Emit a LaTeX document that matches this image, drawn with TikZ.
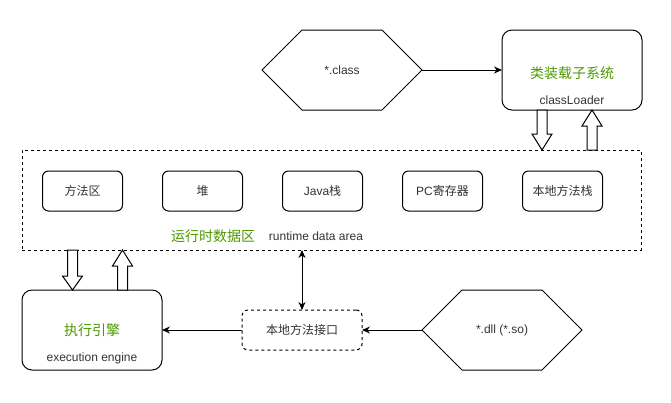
\documentclass[tikz,border=0pt]{standalone}
\usepackage{fontspec}
\setmainfont{Liberation Sans}
\newfontfamily\cjk{Noto Sans CJK SC}
\usetikzlibrary{arrows.meta,calc}
\definecolor{grn}{RGB}{77,153,0}
\definecolor{txt}{RGB}{51,51,51}
\begin{document}
\begin{tikzpicture}[x=1pt,y=-1pt,line width=1pt,
  every node/.style={outer sep=0pt,inner sep=0pt,text=txt},
  small/.style={font=\fontsize{12}{14}\selectfont},
  big/.style={font=\fontsize{14}{16}\selectfont\cjk,text=grn},
  membox/.style={draw,rounded corners=6pt,minimum width=80pt,minimum height=40pt,font=\fontsize{12}{14}\selectfont},
  bigbox/.style={draw,rounded corners=10pt,minimum width=140pt,minimum height=80pt},
  hexbox/.style={minimum width=160pt,minimum height=80pt,font=\fontsize{12}{14}\selectfont},
  dash3/.style={dash pattern=on 3pt off 3pt},
  conn/.style={-{Stealth[length=8pt,width=7pt]}},
  blockarrow/.style={draw,fill=white,line width=1pt}
]
\useasboundingbox (0,0) rectangle (671,402);

% class hexagon
\node[hexbox] (cls) at (342,70) {*.class};
\draw ($(cls.west)$) -- ($(cls.north west)+(40,0)$) -- ($(cls.north east)+(-40,0)$) -- (cls.east) -- ($(cls.south east)+(-40,0)$) -- ($(cls.south west)+(40,0)$) -- cycle;

% classloader
\node[bigbox] (cl) at (572,70) {};
\node[big] (clzh) at (572,73) {类装载子系统};
\node[small] (clen) at (572,100) {classLoader};
\draw[conn] (cls.east) -- (cl.west);

% runtime data area
\node[draw,dash3,minimum width=619pt,minimum height=100pt] (rt) at (331.5,200) {};
\node[membox] (m1) at (82.5,191) {\cjk 方法区};
\node[membox] (m2) at (202.5,191) {\cjk 堆};
\node[membox] (m3) at (322.5,191) {Java{\cjk 栈}};
\node[membox] (m4) at (442.5,191) {PC{\cjk 寄存器}};
\node[membox] (m5) at (562.5,191) {\cjk 本地方法栈};
\node[big] (rtzh) at (213,236) {运行时数据区};
\node[small] (rten) at (316,236) {runtime data area};

% block arrows classloader <-> rt
\draw[blockarrow] (537,110) -- (547,110) -- (547,134) -- (552,134) -- (542,150) -- (532,134) -- (537,134) -- cycle;
\draw[blockarrow] (587,150) -- (597,150) -- (597,126) -- (602,126) -- (592,110) -- (582,126) -- (587,126) -- cycle;

% execution engine
\node[bigbox] (ee) at (92,330) {};
\node[big] (eezh) at (92,330) {执行引擎};
\node[small] (eeen) at (92,358) {execution engine};

% block arrows rt <-> ee
\draw[blockarrow] (67.5,250) -- (77.5,250) -- (77.5,276) -- (82.5,276) -- (72.5,290) -- (62.5,276) -- (67.5,276) -- cycle;
\draw[blockarrow] (117.5,290) -- (127.5,290) -- (127.5,266) -- (132.5,266) -- (122.5,250) -- (112.5,266) -- (117.5,266) -- cycle;

% native interface
\node[membox,dash3,minimum width=120pt] (ni) at (302,330) {\cjk 本地方法接口};
\coordinate (rtb) at (302,250);
\draw[{Stealth[length=8pt,width=7pt]}-{Stealth[length=8pt,width=7pt]}] (rtb) -- (ni.north);
\draw[conn] (ni.west) -- (ee.east);

% dll hexagon
\node[hexbox] (dll) at (502,330) {*.dll (*.so)};
\draw ($(dll.west)$) -- ($(dll.north west)+(40,0)$) -- ($(dll.north east)+(-40,0)$) -- (dll.east) -- ($(dll.south east)+(-40,0)$) -- ($(dll.south west)+(40,0)$) -- cycle;
\draw[conn] (dll.west) -- (ni.east);
\end{tikzpicture}
\end{document}
